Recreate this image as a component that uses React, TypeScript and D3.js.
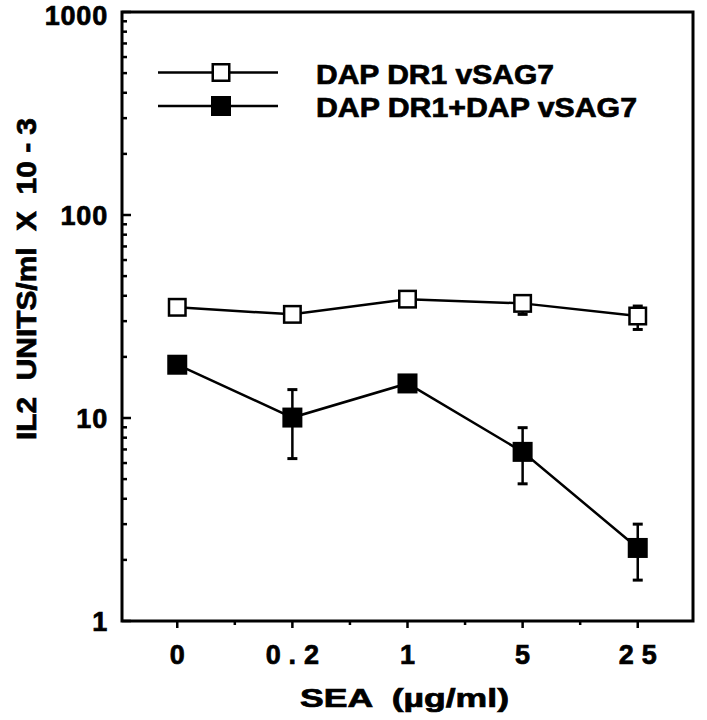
import React from "react";
import * as d3 from "d3";

const categories = ["0", "0.2", "1", "5", "25"];
const seriesNames = ["DAP DR1 vSAG7", "DAP DR1+DAP vSAG7"];
const openValues = [35.1, 32.4, 38.5, 36.7, 31.8];
const openLow = [35.1, 32.4, 38.5, 32.4, 27.3];
const openHigh = [35.1, 32.4, 38.5, 40, 35.6];
const filledValues = [18.3, 10.05, 14.8, 6.81, 2.29];
const filledLow = [18.3, 6.31, 14.8, 4.74, 1.59];
const filledHigh = [18.3, 13.8, 14.8, 8.96, 3.0];
const yMajorTicks = [1, 10, 100, 1000];
const yTitle = "IL2  UNITS/ml  X  10 - 3";
const xTitle = "SEA  (\u00b5g/ml)";

const W = 707;
const H = 720;
const L = 122, R = 693, T = 12, B = 621;
const FONT = "'Liberation Sans', Arial, Helvetica, sans-serif";
const thick = { stroke: "#000", strokeWidth: 0.7 };

export default function App() {
  const x = d3.scalePoint<string>().domain(categories).range([L, R]).padding(0.48);
  const y = d3.scaleLog().domain([1, 1000]).range([B, T]);
  const step = x.step();

  const minorY: number[] = [];
  for (let d = 1; d < 1000; d *= 10) for (let k = 2; k <= 9; k++) minorY.push(d * k);

  const line = d3
    .line<number>()
    .x((_, i) => x(categories[i]) as number)
    .y((v) => y(v));

  const series = [
    { values: openValues, low: openLow, high: openHigh, filled: false },
    { values: filledValues, low: filledLow, high: filledHigh, filled: true },
  ];

  const sq = 19;
  const cap = 5;

  return (
    <svg width={W} height={H} style={{ position: "absolute", left: 0, top: 0, background: "#fff" }}>
      <rect x={0} y={0} width={W} height={H} fill="#fff" />
      {/* frame */}
      <rect x={L} y={T} width={R - L} height={B - T} fill="none" stroke="#000" strokeWidth={3} />
      {/* y ticks */}
      {yMajorTicks.map((t) => (
        <g key={"ym" + t}>
          <line x1={L} x2={L + 9} y1={y(t)} y2={y(t)} stroke="#000" strokeWidth={2.5} />
          <text
            x={108}
            y={Math.max(y(t) + 10, 25)}
            textAnchor="end"
            fontFamily={FONT}
            fontWeight="bold"
            fontSize={27}
            letterSpacing={0.8}
            {...thick}
          >
            {t}
          </text>
        </g>
      ))}
      {minorY.map((t) => (
        <line key={"yn" + t} x1={L} x2={L + 5} y1={y(t)} y2={y(t)} stroke="#000" strokeWidth={2.5} />
      ))}
      {/* x ticks */}
      {categories.map((c, i) => (
        <g key={"xc" + c}>
          <line x1={x(c)} x2={x(c)} y1={B} y2={B + 7} stroke="#000" strokeWidth={2.5} />
          {i < categories.length - 1 && (
            <line
              x1={(x(c) as number) + step / 2}
              x2={(x(c) as number) + step / 2}
              y1={B}
              y2={B + 4}
              stroke="#000"
              strokeWidth={2.5}
            />
          )}
          <text
            x={(x(c) as number) + 3.9}
            y={664}
            textAnchor="middle"
            fontFamily={FONT}
            fontWeight="bold"
            fontSize={27}
            letterSpacing={7.8}
            {...thick}
          >
            {c}
          </text>
        </g>
      ))}
      {/* axis titles */}
      <text
        x={300}
        y={707}
        fontFamily={FONT}
        fontWeight="bold"
        fontSize={26}
        textLength={209}
        lengthAdjust="spacingAndGlyphs"
        style={{ whiteSpace: "pre" }}
        {...thick}
      >
        {xTitle}
      </text>
      <text
        transform={`translate(36,440) rotate(-90)`}
        fontFamily={FONT}
        fontWeight="bold"
        fontSize={27}
        textLength={322}
        lengthAdjust="spacingAndGlyphs"
        style={{ whiteSpace: "pre" }}
        {...thick}
      >
        {yTitle}
      </text>
      {/* series */}
      {series.map((s, si) => (
        <g key={"s" + si}>
          <path d={line(s.values) || ""} fill="none" stroke="#000" strokeWidth={2.5} />
          {s.values.map((v, i) => {
            const cx = x(categories[i]) as number;
            if (s.low[i] === v && s.high[i] === v) return null;
            return (
              <g key={"e" + i}>
                <line x1={cx} x2={cx} y1={y(s.low[i])} y2={y(s.high[i])} stroke="#000" strokeWidth={2.5} />
                <line x1={cx - cap} x2={cx + cap} y1={y(s.low[i])} y2={y(s.low[i])} stroke="#000" strokeWidth={3} />
                <line x1={cx - cap} x2={cx + cap} y1={y(s.high[i])} y2={y(s.high[i])} stroke="#000" strokeWidth={3} />
              </g>
            );
          })}
          {s.values.map((v, i) => {
            const cx = x(categories[i]) as number;
            return s.filled ? (
              <rect key={"p" + i} x={cx - 10} y={y(v) - 10} width={20} height={20} fill="#000" />
            ) : (
              <rect
                key={"p" + i}
                x={cx - (sq - 2.5) / 2}
                y={y(v) - (sq - 2.5) / 2}
                width={sq - 2.5}
                height={sq - 2.5}
                fill="#fff"
                stroke="#000"
                strokeWidth={2.5}
              />
            );
          })}
        </g>
      ))}
      {/* legend */}
      {seriesNames.map((name, i) => {
        const ly = i === 0 ? 72.5 : 106;
        return (
          <g key={"lg" + i}>
            <line x1={158} x2={278} y1={ly} y2={ly} stroke="#000" strokeWidth={2.5} />
            {i === 0 ? (
              <rect x={221 - 8.25} y={ly - 8.25} width={16.5} height={16.5} fill="#fff" stroke="#000" strokeWidth={2.5} />
            ) : (
              <rect x={221 - 10} y={ly - 10} width={20} height={20} fill="#000" />
            )}
            <text
              x={316}
              y={ly + 11}
              fontFamily={FONT}
              fontWeight="bold"
              fontSize={27}
              textLength={i === 0 ? 238 : 321}
              lengthAdjust="spacingAndGlyphs"
              {...thick}
            >
              {name}
            </text>
          </g>
        );
      })}
    </svg>
  );
}
